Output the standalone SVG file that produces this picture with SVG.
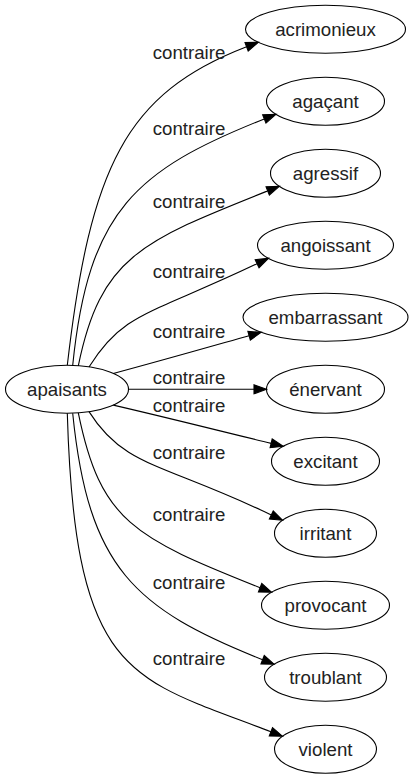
<svg xmlns="http://www.w3.org/2000/svg" width="414" height="779" viewBox="0 0 414 779">
<style>
.n ellipse{fill:none;stroke:#000;stroke-width:1.1}
text{font-family:"Liberation Sans",Arial,sans-serif;font-size:18.67px;fill:#222;text-anchor:middle}
.e path{fill:none;stroke:#000;stroke-width:1.1}
.e polygon{fill:#000;stroke:#000;stroke-width:1.1}
</style>
<rect width="414" height="779" fill="#fff"/>
<g id="edges" class="e">
<path d="M67.3,365.3 C90.3,166.7 125.4,93.7 246.6,46.8"/><polygon points="258.3,42.3 248.2,51.0 245.0,42.6"/>
<path d="M72.7,365.4 C88.3,210.2 136.1,169.9 264.3,118.9"/><polygon points="275.9,114.3 265.96,123.08 262.64,114.72"/>
<path d="M78.3,365.8 C100.5,257 141.4,241.2 267.7,190.9"/><polygon points="279.3,186.3 269.36,195.08 266.04,186.72"/>
<path d="M89,367 C123.5,311.7 148.8,315.4 257.1,263.7"/><polygon points="268.4,258.3 259.04,267.76 255.16,259.64"/>
<path d="M113.3,373.5 C160,361 205.8,347.9 249.1,335.7"/><polygon points="261.1,332.3 250.32,340.03 247.88,331.37"/>
<path d="M128.5,389.3 L254,389.3"/><polygon points="266.5,389.3 254,393.8 254,384.8"/>
<path d="M113.3,405.1 C165,417 227.4,432.8 271.15,443.37"/><polygon points="283.3,446.3 270.1,447.74 272.2,439.0"/>
<path d="M89,411.6 C123.5,466.9 163,463.2 271.3,514.9"/><polygon points="282.6,520.3 269.36,518.96 273.24,510.84"/>
<path d="M78.3,412.8 C100.5,521.6 133.8,537.4 260.1,587.7"/><polygon points="271.7,592.3 258.44,591.88 261.76,583.52"/>
<path d="M72.7,413.2 C88.3,568.4 134.4,608.7 262.6,659.7"/><polygon points="274.2,664.3 260.94,663.88 264.26,655.52"/>
<path d="M67.3,413.3 C75,680 131,677.6 270.9,731.8"/><polygon points="282.6,736.3 269.28,736.0 272.52,727.6"/>
<text x="189" y="59">contraire</text>
<text x="189" y="135">contraire</text>
<text x="189" y="208">contraire</text>
<text x="189" y="278">contraire</text>
<text x="189" y="338">contraire</text>
<text x="189" y="384">contraire</text>
<text x="189" y="411.5">contraire</text>
<text x="189" y="458.5">contraire</text>
<text x="189" y="520.5">contraire</text>
<text x="189" y="588.5">contraire</text>
<text x="189" y="664.5">contraire</text>
</g>
<g id="apaisants" class="n"><ellipse cx="67" cy="389.3" rx="61.5" ry="24"/><text x="67" y="395.5">apaisants</text></g>
<g id="acrimonieux" class="n"><ellipse cx="325.5" cy="29.3" rx="80" ry="24"/><text x="325.5" y="35.5">acrimonieux</text></g>
<g id="agacant" class="n"><ellipse cx="325.5" cy="101.3" rx="59" ry="24"/><text x="325.5" y="107.5">agaçant</text></g>
<g id="agressif" class="n"><ellipse cx="325.5" cy="173.3" rx="55" ry="24"/><text x="325.5" y="179.5">agressif</text></g>
<g id="angoissant" class="n"><ellipse cx="325.5" cy="245.3" rx="68" ry="24"/><text x="325.5" y="251.5">angoissant</text></g>
<g id="embarrassant" class="n"><ellipse cx="325.5" cy="317.3" rx="82.5" ry="24"/><text x="325.5" y="323.5">embarrassant</text></g>
<g id="enervant" class="n"><ellipse cx="325.5" cy="389.3" rx="59" ry="24"/><text x="325.5" y="395.5">énervant</text></g>
<g id="excitant" class="n"><ellipse cx="325.5" cy="461.3" rx="54" ry="24"/><text x="325.5" y="467.5">excitant</text></g>
<g id="irritant" class="n"><ellipse cx="325.5" cy="533.3" rx="51" ry="24"/><text x="325.5" y="539.5">irritant</text></g>
<g id="provocant" class="n"><ellipse cx="325.5" cy="605.3" rx="64" ry="24"/><text x="325.5" y="611.5">provocant</text></g>
<g id="troublant" class="n"><ellipse cx="325.5" cy="677.3" rx="61" ry="24"/><text x="325.5" y="683.5">troublant</text></g>
<g id="violent" class="n"><ellipse cx="325.5" cy="749.3" rx="51" ry="24"/><text x="325.5" y="755.5">violent</text></g>
</svg>
